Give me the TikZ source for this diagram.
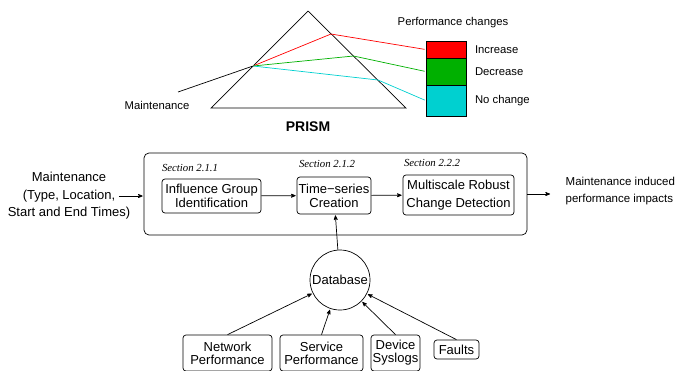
\documentclass[tikz,border=0pt]{standalone}
\usepackage{fontspec}
\setmainfont{Liberation Sans}
\newfontfamily\secfont{Liberation Serif}
\usepackage{tikz}
\usetikzlibrary{arrows}
\usetikzlibrary{positioning}

\definecolor{incred}{RGB}{255,0,0}
\definecolor{decgreen}{RGB}{0,176,0}
\definecolor{nocyan}{RGB}{0,208,208}

\begin{document}
\begin{tikzpicture}[x=1pt,y=-1pt,>=stealth',shorten >=1pt,line width=0.7pt,
	block/.style={draw,rounded corners=3pt,align=center,inner sep=1pt},
	seclabel/.style={inner sep=0pt,font=\secfont\itshape\fontsize{10.8}{12}\selectfont},
	small/.style={font=\fontsize{11.3}{13}\selectfont},
	swatch/.style={draw,minimum width=40pt,inner sep=0pt}]
	\useasboundingbox (0,0) rectangle (685,370);

	% prism
	\coordinate (apex) at (308,11);
	\coordinate (bl) at (211,108);
	\coordinate (br) at (406,108);
	\coordinate (entry) at (253,66);
	\coordinate (src) at (178,92);
	\draw (apex) -- (bl) -- (br) -- cycle;
	\draw (src) -- (entry);
	\node[small] (maintin) at (157,105) {Maintenance};
	\node[font=\bfseries\fontsize{14}{16}\selectfont] (prismlabel) at (308,127) {PRISM};

	\node[small] (perf) at (453,23) {Performance changes};
	\node[swatch,fill=incred,minimum height=17pt] (inc) at (446,49.5) {};
	\node[swatch,fill=decgreen,minimum height=27pt] (dec) at (446,71.5) {};
	\node[swatch,fill=nocyan,minimum height=31pt] (noch) at (446,100.5) {};
	\node[small,right=5pt of inc] (inclabel) {Increase};
	\node[small,right=5pt of dec] (declabel) {Decrease};
	\node[small,right=5pt of noch] (nochlabel) {No change};

	\draw[incred] (entry) -- (331,34) -- (inc.west);
	\draw[decgreen] (entry) -- (353.5,56) -- (dec.west);
	\draw[nocyan] (entry) -- (378,80) -- (noch.west);

	% pipeline
	\node[draw,rounded corners=5pt,minimum width=383pt,minimum height=82pt] (system) at (335.5,194) {};
	\node[block,minimum width=99pt,minimum height=34pt,font=\fontsize{13}{14}\selectfont] (infl) at (211.5,196) {Influence Group\\Identification};
	\node[block,minimum width=74pt,minimum height=37pt,font=\fontsize{13}{14}\selectfont] (ts) at (334,195.5) {Time\textminus series\\Creation};
	\node[block,minimum width=111pt,minimum height=40pt,font=\fontsize{13}{18}\selectfont] (mcd) at (458.5,195) {Multiscale Robust\\Change Detection};
	\node[seclabel,above right=7pt and 0pt of infl.north west] (sec1) {Section 2.1.1};
	\node[seclabel,above right=9pt and 2pt of ts.north west] (sec2) {Section 2.1.2};
	\node[seclabel,above right=8pt and 1pt of mcd.north west] (sec3) {Section 2.2.2};

	\node[align=center,font=\fontsize{13}{17.5}\selectfont] (maint) at (69,196) {Maintenance\\(Type, Location,\\Start and End Times)};
	\node[align=left,anchor=west,font=\fontsize{11.5}{17}\selectfont] (impact) at (562,191.5) {Maintenance induced\\performance impacts};

	\node[draw,circle,minimum size=60pt,inner sep=0pt,font=\fontsize{13}{14}\selectfont] (db) at (340,280) {Database};

	% sources
	\node[block,minimum width=89pt,minimum height=36pt,font=\fontsize{13}{13}\selectfont] (net) at (227.5,353) {Network\\Performance};
	\node[block,minimum width=83pt,minimum height=36pt,font=\fontsize{13}{13}\selectfont] (svc) at (321.5,353) {Service\\Performance};
	\node[block,minimum width=49pt,minimum height=36pt,font=\fontsize{13}{13}\selectfont] (dev) at (395.5,353) {Device\\Syslogs};
	\node[block,minimum width=45pt,minimum height=19pt,font=\fontsize{13}{13}\selectfont] (faults) at (456.5,349.5) {Faults};

	\draw[->] ([xshift=-15pt]maint.east) -- (maint.east -| system.west);
	\draw[->,shorten >=12pt] (system.east) -- (system.east -| impact.west);
	\path[->] (infl) edge (ts)
		(ts) edge (mcd)
		(db) edge (ts)
		(net.north) edge (db)
		(svc.north) edge (db)
		(dev.north) edge (db)
		(faults.north) edge (db);
\end{tikzpicture}
\end{document}
